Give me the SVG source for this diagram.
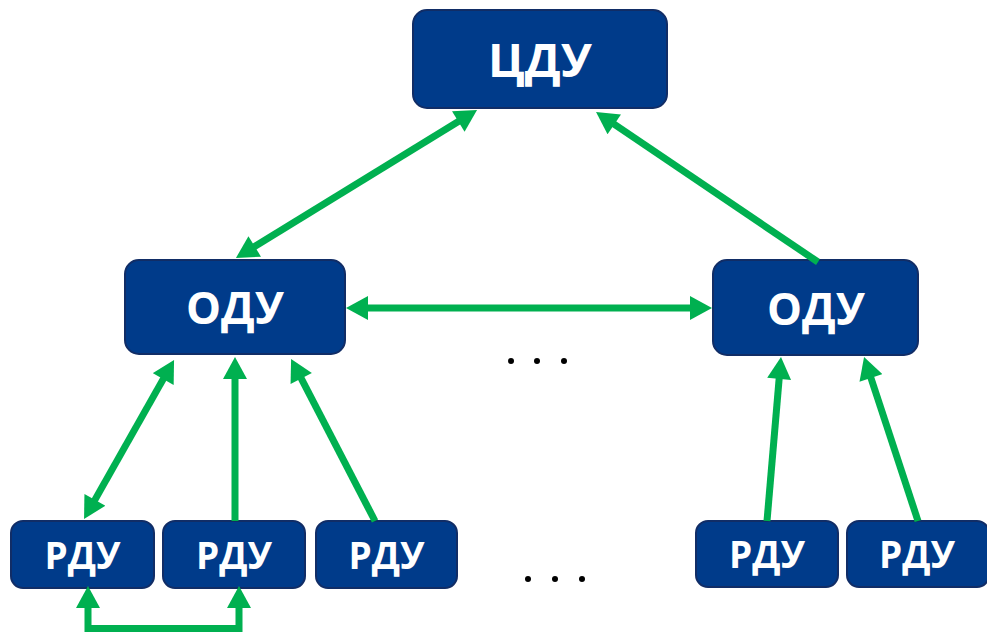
<svg xmlns="http://www.w3.org/2000/svg" width="987" height="634" viewBox="0 0 987 634">
  <style>
    .box { fill: #003b8a; stroke: #112d66; stroke-width: 2; }
    .lbl { fill: #ffffff; font-family: "Open Sans", "DejaVu Sans", sans-serif; font-weight: bold; text-anchor: middle; }
    .big { font-size: 47px; }
    .mid { font-size: 44px; }
    .small { font-size: 37px; }
    .link { fill: none; stroke: #00b050; stroke-width: 7; stroke-linejoin: miter; }
    .dot { fill: #000000; }
  </style>
  <defs>
    <marker id="head" markerUnits="userSpaceOnUse" markerWidth="24" markerHeight="24" viewBox="0 0 22 24" refX="2" refY="12" orient="auto-start-reverse">
      <path d="M0,0 L22,12 L0,24 z" fill="#00b050"/>
    </marker>
  </defs>

  <rect width="987" height="634" fill="#ffffff"/>

  <!-- central dispatch -->
  <g id="cdu">
    <rect class="box" x="413" y="10" width="254" height="98" rx="14"/>
    <text class="lbl big" x="540" y="77">ЦДУ</text>
  </g>

  <!-- regional dispatch (united) -->
  <g id="odu-left">
    <rect class="box" x="125" y="260" width="220" height="94" rx="14"/>
    <text class="lbl mid" x="235" y="324">ОДУ</text>
  </g>
  <g id="odu-right">
    <rect class="box" x="713" y="260" width="205" height="95" rx="14"/>
    <text class="lbl mid" x="816" y="325">ОДУ</text>
  </g>

  <!-- local dispatch -->
  <g id="rdu-1">
    <rect class="box" x="11" y="521" width="143" height="67" rx="12"/>
    <text class="lbl small" x="82.5" y="569">РДУ</text>
  </g>
  <g id="rdu-2">
    <rect class="box" x="163" y="521" width="142" height="67" rx="12"/>
    <text class="lbl small" x="234" y="569">РДУ</text>
  </g>
  <g id="rdu-3">
    <rect class="box" x="316" y="521" width="141" height="67" rx="12"/>
    <text class="lbl small" x="386.5" y="569">РДУ</text>
  </g>
  <g id="rdu-4">
    <rect class="box" x="696" y="521" width="142" height="66" rx="12"/>
    <text class="lbl small" x="767" y="568">РДУ</text>
  </g>
  <g id="rdu-5">
    <rect class="box" x="847" y="521" width="142" height="66" rx="12"/>
    <text class="lbl small" x="917" y="568">РДУ</text>
  </g>

  <!-- ellipsis marks -->
  <g id="more">
    <circle class="dot" cx="511" cy="361" r="3"/>
    <circle class="dot" cx="537" cy="361" r="3"/>
    <circle class="dot" cx="564" cy="361" r="3"/>
    <circle class="dot" cx="528" cy="579" r="3"/>
    <circle class="dot" cx="555" cy="579" r="3"/>
    <circle class="dot" cx="582" cy="579" r="3"/>
  </g>

  <g id="connectors">
    <path class="link" d="M253,247.5 L460,120.5" marker-start="url(#head)" marker-end="url(#head)"/>
    <path class="link" d="M818,262 L612.6,123.2" marker-end="url(#head)"/>
    <path class="link" d="M366,308 L692,308" marker-start="url(#head)" marker-end="url(#head)"/>
    <path class="link" d="M93.9,501.6 L164.2,377.4" marker-start="url(#head)" marker-end="url(#head)"/>
    <path class="link" d="M235,521 L235,377" marker-end="url(#head)"/>
    <path class="link" d="M375,521 L300.3,376.7" marker-end="url(#head)"/>
    <path class="link" d="M767,521 L779.3,376.9" marker-end="url(#head)"/>
    <path class="link" d="M918,521 L870.3,376" marker-end="url(#head)"/>
    <path class="link" d="M88,606 L88,628.5 L239,628.5 L239,606" marker-start="url(#head)" marker-end="url(#head)"/>
  </g>
</svg>
